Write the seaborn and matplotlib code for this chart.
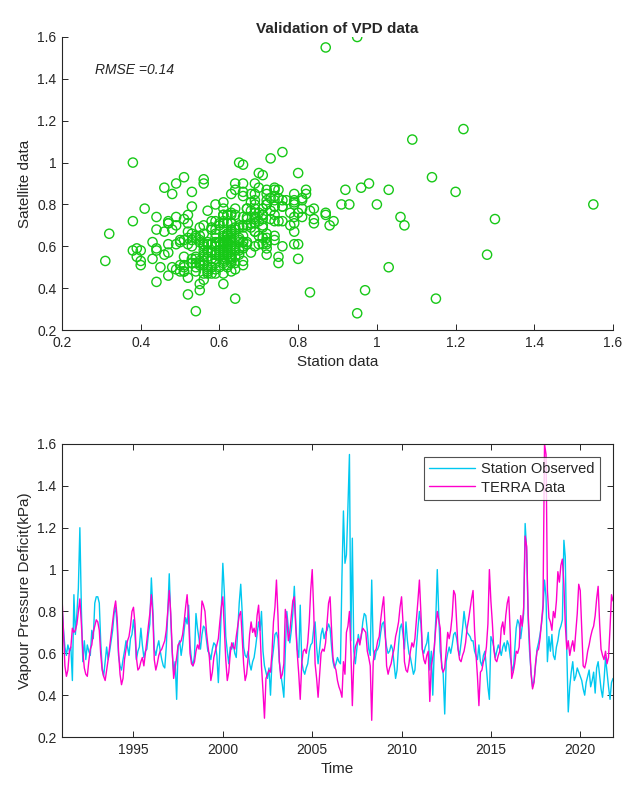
import matplotlib
matplotlib.use("Agg")
import matplotlib.pyplot as plt
import matplotlib.dates as mdates
from matplotlib.ticker import FuncFormatter, MultipleLocator
import pandas as pd
import seaborn as sns

# Monthly VPD (kPa), Jan 1991 - Nov 2021, one row per year
station = [
    0.82, 0.71, 0.63, 0.59, 0.64, 0.61, 0.63, 0.47, 0.88, 0.69, 0.79, 0.91,  # 1991
    1.20, 0.81, 0.56, 0.66, 0.57, 0.64, 0.61, 0.59, 0.71, 0.67, 0.84, 0.87,  # 1992
    0.87, 0.84, 0.66, 0.53, 0.49, 0.56, 0.63, 0.57, 0.61, 0.66, 0.71, 0.79,  # 1993
    0.82, 0.73, 0.59, 0.54, 0.52, 0.57, 0.61, 0.66, 0.63, 0.59, 0.67, 0.69,  # 1994
    0.76, 0.69, 0.57, 0.61, 0.63, 0.72, 0.64, 0.58, 0.61, 0.62, 0.69, 0.74,  # 1995
    0.96, 0.81, 0.62, 0.59, 0.63, 0.66, 0.61, 0.57, 0.54, 0.53, 0.63, 0.79,  # 1996
    0.98, 0.76, 0.61, 0.51, 0.56, 0.38, 0.63, 0.66, 0.59, 0.64, 0.71, 0.77,  # 1997
    0.74, 0.83, 0.64, 0.57, 0.54, 0.59, 0.79, 0.72, 0.67, 0.62, 0.69, 0.73,  # 1998
    0.72, 0.66, 0.61, 0.60, 0.57, 0.62, 0.65, 0.64, 0.59, 0.46, 0.62, 0.81,  # 1999
    1.03, 0.89, 0.68, 0.61, 0.55, 0.63, 0.62, 0.65, 0.60, 0.58, 0.71, 0.84,  # 2000
    0.93, 0.79, 0.63, 0.59, 0.58, 0.61, 0.55, 0.52, 0.56, 0.58, 0.63, 0.69,  # 2001
    0.75, 0.71, 0.80, 0.61, 0.54, 0.51, 0.48, 0.53, 0.40, 0.56, 0.62, 0.69,  # 2002
    0.70, 0.67, 0.56, 0.50, 0.45, 0.39, 0.61, 0.80, 0.72, 0.65, 0.71, 0.79,  # 2003
    0.92, 0.74, 0.62, 0.58, 0.83, 0.56, 0.52, 0.50, 0.53, 0.55, 0.61, 0.64,  # 2004
    0.65, 0.72, 0.75, 0.63, 0.55, 0.62, 0.69, 0.72, 0.67, 0.70, 0.71, 0.74,  # 2005
    0.72, 0.63, 0.56, 0.53, 0.55, 0.58, 0.56, 0.55, 0.97, 1.28, 1.03, 1.07,  # 2006
    1.30, 1.55, 0.66, 1.15, 0.61, 0.55, 0.62, 0.69, 0.65, 0.68, 0.75, 0.79,  # 2007
    0.78, 0.71, 0.62, 0.59, 0.95, 0.62, 0.57, 0.61, 0.62, 0.64, 0.70, 0.74,  # 2008
    0.75, 0.68, 0.63, 0.60, 0.61, 0.64, 0.62, 0.55, 0.48, 0.52, 0.64, 0.72,  # 2009
    0.74, 0.69, 0.62, 0.75, 0.66, 0.60, 0.58, 0.54, 0.50, 0.52, 0.63, 0.72,  # 2010
    0.80, 0.74, 0.62, 0.60, 0.63, 0.65, 0.70, 0.52, 0.61, 0.40, 0.62, 0.76,  # 2011
    1.00, 0.78, 0.61, 0.55, 0.50, 0.31, 0.56, 0.60, 0.63, 0.60, 0.64, 0.69,  # 2012
    0.70, 0.67, 0.62, 0.59, 0.65, 0.72, 0.80, 0.74, 0.70, 0.69, 0.68, 0.66,  # 2013
    0.66, 0.61, 0.59, 0.57, 0.64, 0.56, 0.54, 0.59, 0.61, 0.53, 0.44, 0.38,  # 2014
    0.68, 0.66, 0.63, 0.58, 0.61, 0.64, 0.62, 0.59, 0.63, 0.65, 0.61, 0.66,  # 2015
    0.64, 0.58, 0.54, 0.51, 0.61, 0.72, 0.76, 0.74, 0.67, 0.73, 0.79, 1.22,  # 2016
    1.09, 0.76, 0.61, 0.51, 0.44, 0.47, 0.54, 0.62, 0.65, 0.69, 0.74, 0.81,  # 2017
    0.95, 0.87, 0.56, 0.68, 0.61, 0.69, 0.59, 0.57, 0.63, 0.66, 0.71, 0.73,  # 2018
    0.76, 1.14, 1.06, 0.61, 0.32, 0.44, 0.51, 0.56, 0.47, 0.49, 0.53, 0.51,  # 2019
    0.49, 0.47, 0.43, 0.40, 0.46, 0.49, 0.52, 0.44, 0.47, 0.51, 0.41, 0.53,  # 2020
    0.56, 0.49, 0.43, 0.39, 0.47, 0.58, 0.51, 0.44, 0.38, 0.46, 0.48,        # 2021
]

terra = [
    0.87, 0.69, 0.54, 0.49, 0.52, 0.61, 0.63, 0.72, 0.70, 0.71, 0.74, 0.80,  # 1991
    0.86, 0.74, 0.61, 0.53, 0.50, 0.49, 0.56, 0.62, 0.64, 0.70, 0.73, 0.76,  # 1992
    0.75, 0.71, 0.60, 0.52, 0.49, 0.47, 0.52, 0.57, 0.63, 0.69, 0.75, 0.81,  # 1993
    0.85, 0.77, 0.61, 0.50, 0.45, 0.48, 0.57, 0.62, 0.66, 0.68, 0.73, 0.80,  # 1994
    0.82, 0.74, 0.58, 0.52, 0.53, 0.56, 0.58, 0.54, 0.60, 0.66, 0.73, 0.79,  # 1995
    0.88, 0.78, 0.57, 0.52, 0.55, 0.59, 0.61, 0.62, 0.64, 0.66, 0.71, 0.80,  # 1996
    0.90, 0.79, 0.62, 0.48, 0.53, 0.58, 0.64, 0.65, 0.66, 0.69, 0.75, 0.82,  # 1997
    0.88, 0.77, 0.60, 0.55, 0.54, 0.56, 0.61, 0.64, 0.62, 0.71, 0.85, 0.83,  # 1998
    0.80, 0.70, 0.64, 0.58, 0.47, 0.51, 0.58, 0.61, 0.64, 0.67, 0.75, 0.82,  # 1999
    0.87, 0.72, 0.57, 0.47, 0.51, 0.60, 0.65, 0.63, 0.62, 0.68, 0.73, 0.78,  # 2000
    0.80, 0.67, 0.55, 0.47, 0.50, 0.58, 0.69, 0.75, 0.70, 0.72, 0.68, 0.78,  # 2001
    0.83, 0.70, 0.54, 0.42, 0.29, 0.48, 0.50, 0.52, 0.51, 0.60, 0.75, 0.82,  # 2002
    0.95, 0.78, 0.56, 0.48, 0.50, 0.55, 0.81, 0.76, 0.66, 0.70, 0.78, 0.85,  # 2003
    0.87, 0.72, 0.60, 0.50, 0.38, 0.55, 0.61, 0.62, 0.60, 0.65, 0.75, 0.90,  # 2004
    1.00, 0.80, 0.55, 0.48, 0.39, 0.50, 0.60, 0.62, 0.61, 0.65, 0.75, 0.84,  # 2005
    0.87, 0.71, 0.58, 0.54, 0.52, 0.47, 0.44, 0.42, 0.39, 0.56, 0.50, 0.70,  # 2006
    0.73, 0.80, 0.62, 0.35, 0.56, 0.63, 0.65, 0.67, 0.64, 0.69, 0.72, 0.71,  # 2007
    0.70, 0.61, 0.58, 0.54, 0.28, 0.56, 0.61, 0.62, 0.66, 0.68, 0.76, 0.82,  # 2008
    0.87, 0.71, 0.54, 0.50, 0.53, 0.55, 0.59, 0.62, 0.68, 0.71, 0.75, 0.82,  # 2009
    0.87, 0.74, 0.56, 0.52, 0.51, 0.55, 0.61, 0.65, 0.63, 0.67, 0.76, 0.85,  # 2010
    0.95, 0.79, 0.62, 0.57, 0.55, 0.59, 0.61, 0.37, 0.54, 0.58, 0.63, 0.72,  # 2011
    0.80, 0.76, 0.72, 0.53, 0.51, 0.53, 0.61, 0.70, 0.67, 0.71, 0.78, 0.90,  # 2012
    0.88, 0.74, 0.62, 0.57, 0.56, 0.59, 0.61, 0.65, 0.72, 0.76, 0.81, 0.86,  # 2013
    0.90, 0.71, 0.60, 0.49, 0.35, 0.51, 0.52, 0.56, 0.58, 0.63, 0.74, 1.00,  # 2014
    0.85, 0.74, 0.62, 0.57, 0.56, 0.59, 0.61, 0.72, 0.75, 0.69, 0.78, 0.84,  # 2015
    0.87, 0.69, 0.48, 0.51, 0.55, 0.61, 0.60, 0.63, 0.78, 0.73, 0.82, 1.16,  # 2016
    1.11, 0.79, 0.65, 0.50, 0.43, 0.46, 0.55, 0.61, 0.62, 0.67, 0.75, 0.83,  # 2017
    1.60, 1.55, 0.90, 0.77, 0.75, 0.71, 0.80, 0.77, 0.85, 0.99, 0.94, 1.02,  # 2018
    1.05, 0.93, 0.74, 0.62, 0.66, 0.59, 0.63, 0.66, 0.61, 0.70, 0.79, 0.93,  # 2019
    0.90, 0.71, 0.54, 0.53, 0.56, 0.61, 0.64, 0.68, 0.71, 0.73, 0.78, 0.86,  # 2020
    0.92, 0.74, 0.62, 0.59, 0.57, 0.61, 0.55, 0.58, 0.72, 0.88, 0.85,        # 2021
]

rmse_label = "RMSE =0.14"
series_names = ["Station Observed", "TERRA Data"]

dates = pd.date_range("1991-01-01", periods=len(station), freq="MS")
df = pd.DataFrame({"date": dates, "station": station, "terra": terra})

green = "#17c817"
cyan = "#00c8f0"
magenta = "#ff00cc"
ink = "#262626"

sns.set_style("white")
plt.rcParams["font.family"] = ["Liberation Sans", "DejaVu Sans"]

fig = plt.figure(figsize=(6.27, 7.92), dpi=100)
ax1 = fig.add_axes([0.0989, 0.5833, 0.8788, 0.3700])
ax2 = fig.add_axes([0.0989, 0.0694, 0.8788, 0.3700])

fmt = FuncFormatter(lambda v, p: f"{v:g}")

# --- scatter: station vs satellite ---
sns.scatterplot(data=df, x="station", y="terra", ax=ax1, marker="o", s=44,
                color=green, facecolor="none", edgecolor=green, linewidth=1.0)
ax1.set_xlim(0.2, 1.6)
ax1.set_ylim(0.2, 1.6)
ax1.xaxis.set_major_locator(MultipleLocator(0.2))
ax1.yaxis.set_major_locator(MultipleLocator(0.2))
ax1.xaxis.set_major_formatter(fmt)
ax1.yaxis.set_major_formatter(fmt)
ax1.spines["top"].set_visible(False)
ax1.spines["right"].set_visible(False)
ax1.set_xlabel("Station data", fontsize=11, color=ink)
ax1.set_ylabel("Satellite data", fontsize=11, color=ink)
ax1.set_title("Validation of VPD data", fontsize=11, fontweight="bold", pad=3)
ax1.text(0.285, 1.44, rmse_label, fontsize=10, fontstyle="italic",
         color=ink, va="center")

# --- time series ---
sns.lineplot(data=df, x="date", y="station", ax=ax2, color=cyan,
             linewidth=1.0, label=series_names[0])
sns.lineplot(data=df, x="date", y="terra", ax=ax2, color=magenta,
             linewidth=1.0, label=series_names[1])
ax2.set_xlim(dates[0], dates[-1])
ax2.set_ylim(0.2, 1.6)
ax2.yaxis.set_major_locator(MultipleLocator(0.2))
ax2.yaxis.set_major_formatter(fmt)
ax2.xaxis.set_major_locator(mdates.YearLocator(5))
ax2.xaxis.set_major_formatter(mdates.DateFormatter("%Y"))
ax2.set_xlabel("Time", fontsize=11, color=ink)
ax2.set_ylabel("Vapour Pressure Deficit(kPa)", fontsize=11, color=ink)
leg = ax2.legend(loc="upper right", fontsize=10.5, frameon=True, fancybox=False,
                 handlelength=3.2, borderaxespad=0.9, borderpad=0.35,
                 labelspacing=0.3, handletextpad=0.4)
leg.get_frame().set_edgecolor(ink)
leg.get_frame().set_linewidth(0.8)
for t in leg.get_texts():
    t.set_color(ink)

for ax in (ax1, ax2):
    for sp in ax.spines.values():
        sp.set_color(ink)
        sp.set_linewidth(0.8)
    ax.tick_params(direction="in", length=4, width=0.7, colors=ink,
                   labelsize=10, pad=4)
ax2.tick_params(top=True, right=True, bottom=True, left=True)
ax1.tick_params(bottom=True, left=True)

fig.savefig("out.png", dpi=100)
